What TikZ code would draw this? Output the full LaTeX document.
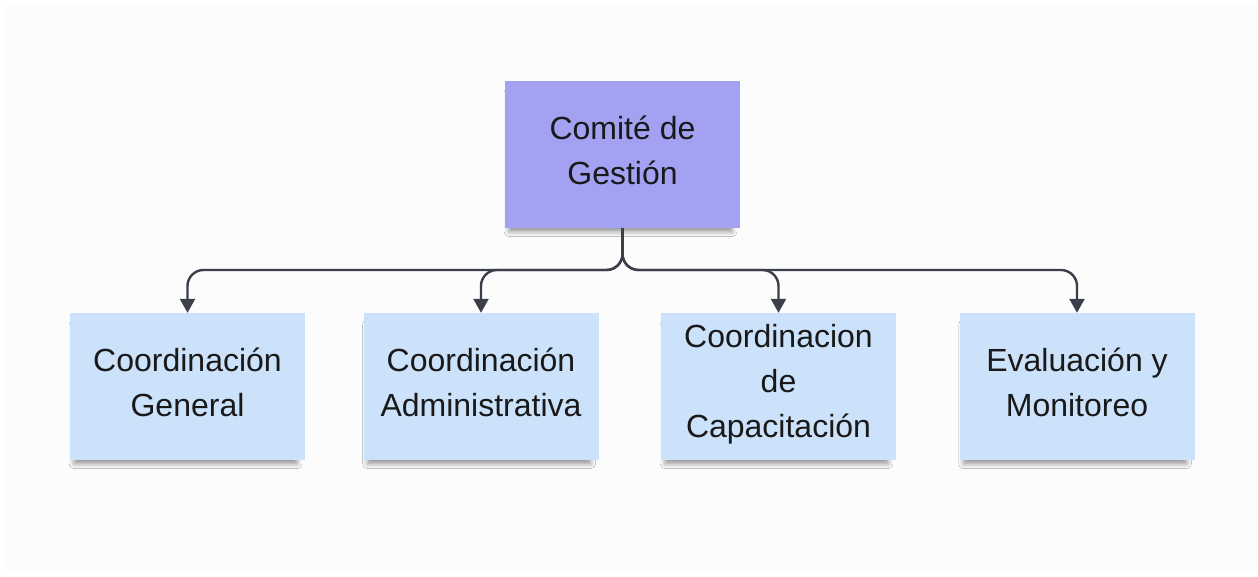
\documentclass[tikz,border=0pt]{standalone}
\usepackage{fontspec}
\setmainfont{Liberation Sans}
\usetikzlibrary{shadows.blur,arrows.meta}
\definecolor{topfill}{HTML}{A3A2F2}
\definecolor{subfill}{HTML}{CCE1FA}
\definecolor{linec}{HTML}{3A3F4A}
\definecolor{bgc}{HTML}{FCFCFC}
\tikzset{
  box/.style={rectangle, minimum width=235pt, minimum height=147pt, inner sep=0pt,
    blur shadow={shadow xshift=-2pt, shadow yshift=-8pt, shadow scale=0.95, shadow blur radius=5pt, shadow opacity=40}},
  lbl/.style={align=center, font=\fontsize{32}{45}\selectfont, text=black!90, inner sep=0pt},
  topbox/.style={box, fill=topfill},
  subbox/.style={box, fill=subfill},
  conn/.style={draw=linec, line width=2.4pt, rounded corners=16pt, -{Triangle[width=15pt,length=14pt]}}
}
\begin{document}
\begin{tikzpicture}[x=1pt,y=1pt]
\useasboundingbox (0,0) rectangle (1258,-577);
\fill[white] (0,0) rectangle (1258,-577);
\fill[bgc] (5,-6) rectangle (1258,-572);
\node[topbox] (top) at (622.5,-154.5) {};
\node[subbox] (b1) at (187.5,-386.5) {};
\node[subbox] (b2) at (481,-386.5) {};
\node[subbox] (b3) at (778.5,-386.5) {};
\node[subbox] (b4) at (1077,-386.5) {};
\node[lbl] (t0) at ([yshift=4pt]top.center) {Comité de\\Gestión};
\node[lbl] (t1) at ([yshift=4pt]b1.center) {Coordinación\\General};
\node[lbl] (t2) at ([yshift=4pt]b2.center) {Coordinación\\Administrativa};
\node[lbl] (t3) at ([yshift=2pt]b3.center) {Coordinacion\\de\\Capacitación};
\node[lbl] (t4) at ([yshift=4pt]b4.center) {Evaluación y\\Monitoreo};
\coordinate (j1) at (187.5,-270);
\coordinate (j2) at (481,-270);
\coordinate (j3) at (778.5,-270);
\coordinate (j4) at (1077,-270);
\draw[conn] (top.south) |- (j1) -- (b1.north);
\draw[conn] (top.south) |- (j2) -- (b2.north);
\draw[conn] (top.south) |- (j3) -- (b3.north);
\draw[conn] (top.south) |- (j4) -- (b4.north);
\end{tikzpicture}
\end{document}
